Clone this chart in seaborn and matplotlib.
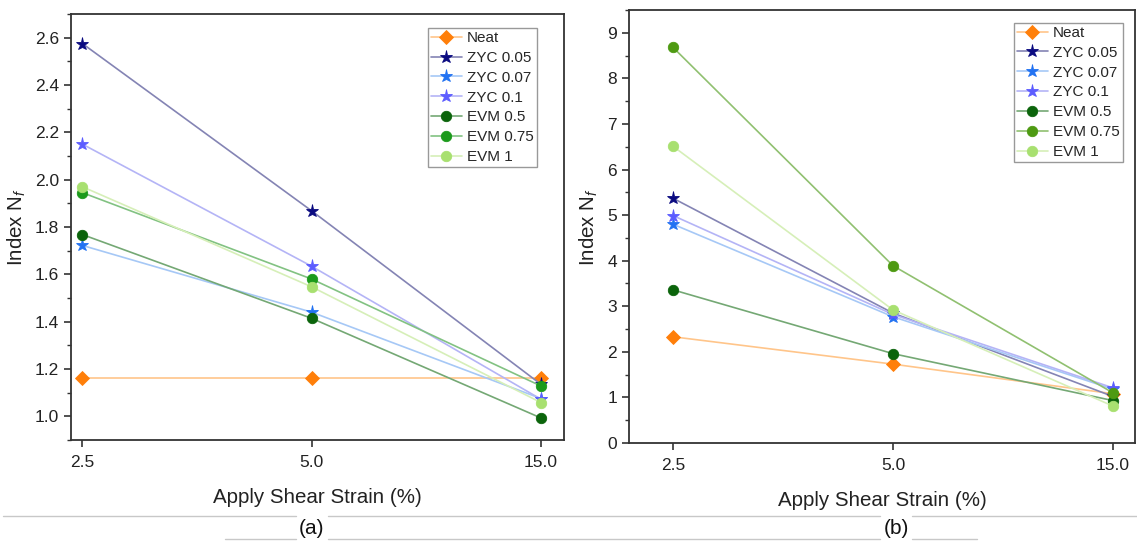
import numpy as np
import pandas as pd
import matplotlib
matplotlib.use("Agg")
import matplotlib.pyplot as plt
from matplotlib.lines import Line2D
from matplotlib.ticker import MultipleLocator
import seaborn as sns

# data
strain = ['2.5', '5.0', '15.0']
series = ['Neat', 'ZYC 0.05', 'ZYC 0.07', 'ZYC 0.1', 'EVM 0.5', 'EVM 0.75', 'EVM 1']

nf_a_neat = [1.16, 1.16, 1.16]
nf_a_zyc005 = [2.575, 1.868, 1.135]
nf_a_zyc007 = [1.722, 1.44, 1.075]
nf_a_zyc01 = [2.15, 1.634, 1.072]
nf_a_evm05 = [1.768, 1.414, 0.993]
nf_a_evm075 = [1.945, 1.58, 1.128]
nf_a_evm1 = [1.97, 1.547, 1.058]

nf_b_neat = [2.33, 1.73, 1.08]
nf_b_zyc005 = [5.37, 2.85, 1.02]
nf_b_zyc007 = [4.80, 2.77, 1.18]
nf_b_zyc01 = [4.99, 2.82, 1.21]
nf_b_evm05 = [3.36, 1.96, 0.93]
nf_b_evm075 = [8.68, 3.89, 1.10]
nf_b_evm1 = [6.51, 2.92, 0.81]

panel_a = [nf_a_neat, nf_a_zyc005, nf_a_zyc007, nf_a_zyc01, nf_a_evm05, nf_a_evm075, nf_a_evm1]
panel_b = [nf_b_neat, nf_b_zyc005, nf_b_zyc007, nf_b_zyc01, nf_b_evm05, nf_b_evm075, nf_b_evm1]

# styles per series: marker, marker colour, line colour, marker size
markers = ['D', '*', '*', '*', 'o', 'o', 'o']
msizes = [7, 9.5, 9.5, 9.5, 7.5, 7.5, 7.5]
mcol_a = ['#ff7f0a', '#0a0a80', '#2272f2', '#5c5cff', '#0b640b', '#1c9a1c', '#a8e070']
mcol_b = ['#ff7f0a', '#0a0a80', '#2272f2', '#5c5cff', '#0b640b', '#4e9a12', '#a8e070']
lcol_a = ['#ffc58a', '#8484b4', '#a6c8f6', '#b4b4f6', '#74a874', '#82c282', '#d6efb8']
lcol_b = ['#ffc58a', '#8484b4', '#a6c8f6', '#b4b4f6', '#74a874', '#90c070', '#d6efb8']

sns.set_style("ticks")
plt.rcParams['font.family'] = ['Liberation Sans', 'DejaVu Sans']
plt.rcParams['mathtext.fontset'] = 'custom'
plt.rcParams['mathtext.rm'] = 'Liberation Sans'
plt.rcParams['mathtext.it'] = 'Liberation Sans:italic'

fig = plt.figure(figsize=(11.37, 5.43), dpi=100)
ax_a = fig.add_axes([0.0624, 0.1897, 0.4336, 0.7845])
ax_b = fig.add_axes([0.5532, 0.1842, 0.4450, 0.7974])


def draw_panel(ax, values, mcols, lcols, leg_anchor):
    for name, vals, mk, ms, mc, lc in zip(series, values, markers, msizes, mcols, lcols):
        df = pd.DataFrame({'strain': strain, 'nf': vals})
        sns.lineplot(data=df, x='strain', y='nf', ax=ax, color=lc, linewidth=1.2,
                     marker=mk, markersize=ms, markerfacecolor=mc,
                     markeredgecolor=mc, markeredgewidth=0.6, label=name)
    for side in ['left', 'right', 'top', 'bottom']:
        ax.spines[side].set_color('#333333')
        ax.spines[side].set_linewidth(1.3)
    ax.tick_params(axis='both', which='major', direction='out', length=5, width=1.2,
                   color='#333333', labelsize=12.5, labelcolor='#222222')
    ax.tick_params(axis='x', which='major', pad=6)
    ax.tick_params(axis='y', which='minor', direction='out', length=3, width=1.0, color='#333333')
    ax.set_xlabel('Apply Shear Strain (%)', fontsize=14.8, color='#222222', labelpad=13)
    ax.set_ylabel(r'Index N$_f$', fontsize=14.8, color='#222222', labelpad=5)
    leg = ax.legend(loc='upper right', bbox_to_anchor=leg_anchor, fontsize=11, frameon=True,
                    fancybox=False, edgecolor='#999999', framealpha=1, borderpad=0.2,
                    labelspacing=0.38, handlelength=2.0, handletextpad=0.35, borderaxespad=0)
    leg.get_frame().set_linewidth(1.0)


draw_panel(ax_a, panel_a, mcol_a, lcol_a, (0.945, 0.967))
ax_a.set_xlim(-0.05, 2.1)
ax_a.set_ylim(0.9, 2.7)
ax_a.yaxis.set_major_locator(MultipleLocator(0.2))
ax_a.yaxis.set_minor_locator(MultipleLocator(0.1))
ax_a.yaxis.set_major_formatter(matplotlib.ticker.FormatStrFormatter('%.1f'))

draw_panel(ax_b, panel_b, mcol_b, lcol_b, (0.976, 0.970))
ax_b.set_xlim(-0.2, 2.1)
ax_b.set_ylim(0, 9.5)
ax_b.yaxis.set_major_locator(MultipleLocator(1))
ax_b.yaxis.set_minor_locator(MultipleLocator(0.5))

# sub-figure captions and the table rules below them
fig.text(311 / 1137, 1 - 528 / 543, '(a)', ha='center', va='center', fontsize=15, color='#111111')
fig.text(896 / 1137, 1 - 528 / 543, '(b)', ha='center', va='center', fontsize=15, color='#111111')

rules = [(516, 3, 296), (516, 328, 880), (516, 912, 1137),
         (539, 225, 296), (539, 328, 880), (539, 912, 977)]
for y, x0, x1 in rules:
    fig.add_artist(Line2D([x0 / 1137, x1 / 1137], [1 - y / 543, 1 - y / 543],
                          transform=fig.transFigure, color='#c8c8c8', linewidth=1.0))

plt.savefig('out.png', dpi=100)
